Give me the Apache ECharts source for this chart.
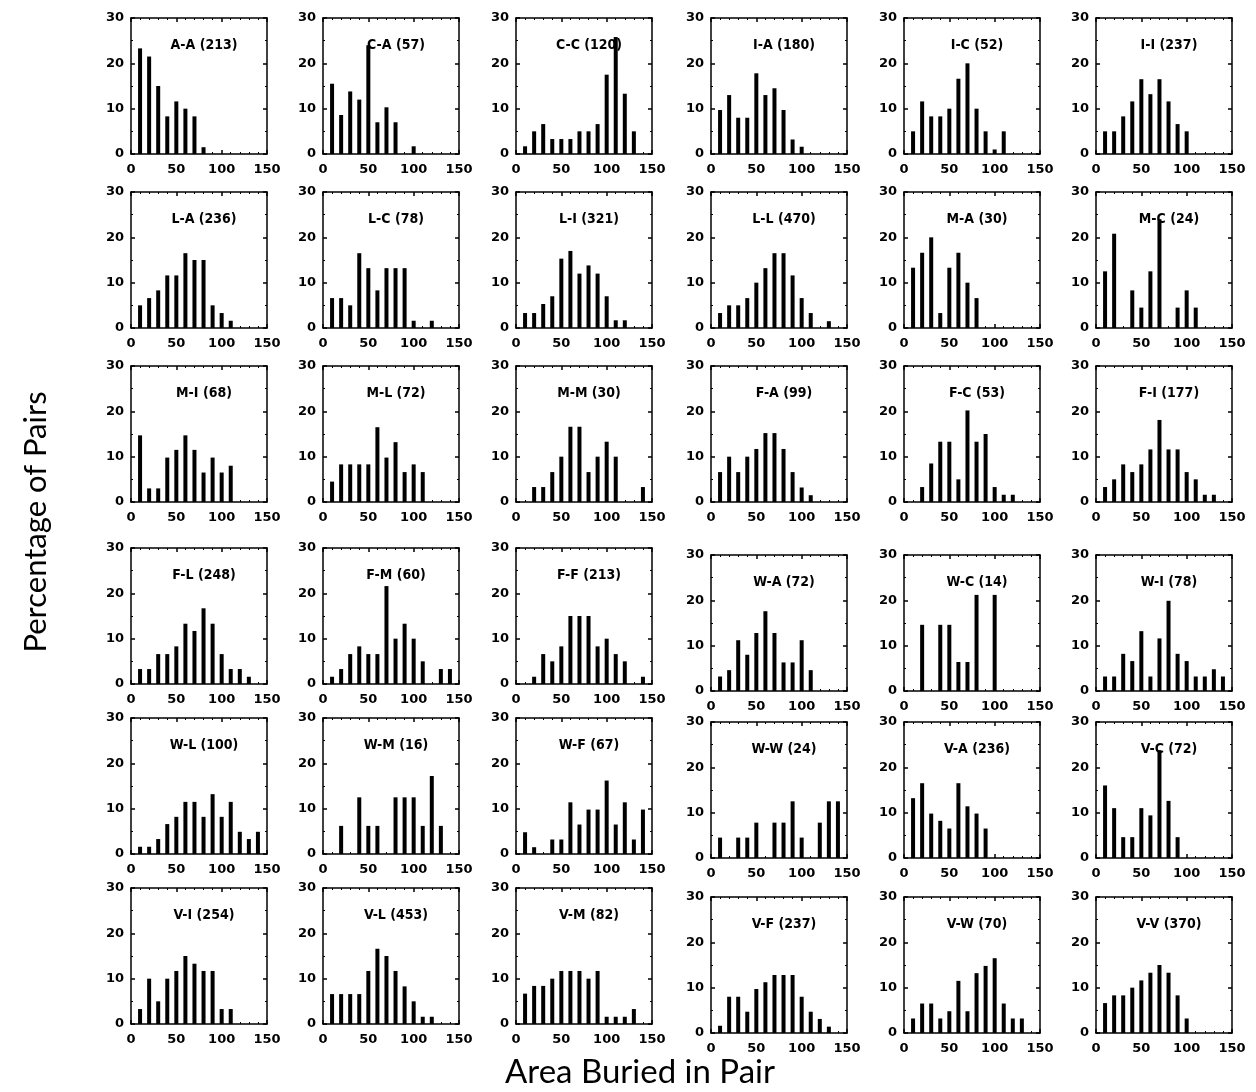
<!DOCTYPE html>
<html>
<head>
<meta charset="utf-8">
<script src="https://cdn.jsdelivr.net/npm/echarts@6/dist/echarts.min.js"></script>
<style>
html, body { margin: 0; padding: 0; background: #fff; }
#main { width: 1256px; height: 1092px; }
</style>
</head>
<body>
<div id="main"></div>
<script>
// bin centres (area buried, 10-unit bins)
var bins = [10, 20, 30, 40, 50, 60, 70, 80, 90, 100, 110, 120, 130, 140];

var pairNames = ['A-A', 'C-A', 'C-C', 'I-A', 'I-C', 'I-I',
                 'L-A', 'L-C', 'L-I', 'L-L', 'M-A', 'M-C',
                 'M-I', 'M-L', 'M-M', 'F-A', 'F-C', 'F-I',
                 'F-L', 'F-M', 'F-F', 'W-A', 'W-C', 'W-I',
                 'W-L', 'W-M', 'W-F', 'W-W', 'V-A', 'V-C',
                 'V-I', 'V-L', 'V-M', 'V-F', 'V-W', 'V-V'];
var pairCounts = [213, 57, 120, 180, 52, 237,
                  236, 78, 321, 470, 30, 24,
                  68, 72, 30, 99, 53, 177,
                  248, 60, 213, 72, 14, 78,
                  100, 16, 67, 24, 236, 72,
                  254, 453, 82, 237, 70, 370];

// percentage of pairs per bin
var AA = [23.3, 21.5, 15, 8.3, 11.6, 10, 8.3, 1.5, 0, 0, 0, 0, 0, 0];
var CA = [15.5, 8.6, 13.8, 12, 24, 7, 10.3, 7, 0, 1.7, 0, 0, 0, 0];
var CC = [1.7, 5, 6.6, 3.3, 3.3, 3.3, 5, 5, 6.6, 17.5, 25.8, 13.3, 5, 0];
var IA = [9.7, 13, 8, 8, 17.8, 13, 14.5, 9.7, 3.2, 1.6, 0, 0, 0, 0];
var IC = [5, 11.6, 8.3, 8.3, 10, 16.6, 20, 10, 5, 1, 5, 0, 0, 0];
var II = [5, 5, 8.3, 11.6, 16.5, 13.2, 16.5, 11.6, 6.6, 5, 0, 0, 0, 0];
var LA = [5, 6.6, 8.3, 11.6, 11.6, 16.5, 15, 15, 5, 3.3, 1.6, 0, 0, 0];
var LC = [6.6, 6.6, 5, 16.5, 13.2, 8.3, 13.2, 13.2, 13.2, 1.6, 0, 1.6, 0, 0];
var LI = [3.3, 3.3, 5.3, 7, 15.3, 17, 12, 13.8, 12, 7, 1.7, 1.7, 0, 0];
var LL = [3.3, 5, 5, 6.6, 10, 13.2, 16.5, 16.5, 11.6, 6.6, 3.3, 0, 1.5, 0];
var MA = [13.3, 16.6, 20, 3.3, 13.3, 16.6, 10, 6.6, 0, 0, 0, 0, 0, 0];
var MC = [12.5, 20.8, 0, 8.3, 4.5, 12.5, 24, 0, 4.5, 8.3, 4.5, 0, 0, 0];
var MI = [14.7, 3, 3, 9.8, 11.5, 14.7, 11.5, 6.5, 9.8, 6.5, 8, 0, 0, 0];
var ML = [4.5, 8.3, 8.3, 8.3, 8.3, 16.5, 9.8, 13.2, 6.6, 8.3, 6.6, 0, 0, 0];
var MM = [0, 3.3, 3.3, 6.6, 10, 16.6, 16.6, 6.6, 10, 13.3, 10, 0, 0, 3.3];
var FA = [6.6, 10, 6.6, 10, 11.7, 15.2, 15.2, 11.7, 6.6, 3.2, 1.5, 0, 0, 0];
var FC = [0, 3.3, 8.5, 13.3, 13.3, 5, 20.2, 13.3, 15, 3.3, 1.6, 1.6, 0, 0];
var FI = [3.3, 5, 8.3, 6.6, 8.3, 11.6, 18.1, 11.6, 11.6, 6.6, 5, 1.6, 1.6, 0];
var FL = [3.3, 3.3, 6.6, 6.6, 8.3, 13.3, 11.7, 16.7, 13.3, 6.6, 3.3, 3.3, 1.6, 0];
var FM = [1.6, 3.3, 6.6, 8.3, 6.6, 6.6, 21.6, 10, 13.3, 10, 5, 0, 3.3, 3.3];
var FF = [0, 1.6, 6.6, 5, 8.3, 15, 15, 15, 8.3, 10, 6.6, 5, 0, 1.6];
var WA = [3.2, 4.6, 11.2, 8, 12.8, 17.6, 12.8, 6.3, 6.3, 11.2, 4.6, 0, 0, 0];
var WC = [0, 14.6, 0, 14.6, 14.6, 6.4, 6.4, 21.2, 0, 21.2, 0, 0, 0, 0];
var WI = [3.2, 3.2, 8.2, 6.6, 13.2, 3.2, 11.6, 19.9, 8.2, 6.6, 3.2, 3.2, 4.8, 3.2];
var WL = [1.6, 1.6, 3.3, 6.6, 8.2, 11.5, 11.5, 8.2, 13.2, 8.2, 11.5, 4.9, 3.3, 4.9];
var WM = [0, 6.2, 0, 12.5, 6.2, 6.2, 0, 12.5, 12.5, 12.5, 6.2, 17.2, 6.2, 0];
var WF = [4.8, 1.5, 0, 3.2, 3.2, 11.4, 6.5, 9.8, 9.8, 16.2, 6.5, 11.4, 3.2, 9.8];
var WW = [4.5, 0, 4.5, 4.5, 7.8, 0, 7.8, 7.8, 12.5, 4.5, 0, 7.8, 12.5, 12.5];
var VA = [13.2, 16.5, 9.8, 8.2, 6.5, 16.5, 11.4, 9.8, 6.5, 0, 0, 0, 0, 0];
var VC = [16, 11, 4.6, 4.6, 11, 9.4, 23.8, 12.6, 4.6, 0, 0, 0, 0, 0];
var VI = [3.3, 10, 5, 10, 11.7, 15, 13.3, 11.7, 11.7, 3.3, 3.3, 0, 0, 0];
var VL = [6.6, 6.6, 6.6, 6.6, 11.7, 16.6, 15, 11.7, 8.3, 5, 1.6, 1.6, 0, 0];
var VM = [6.7, 8.4, 8.4, 10, 11.7, 11.7, 11.7, 10, 11.7, 1.6, 1.6, 1.6, 3.3, 0];
var VF = [1.6, 8, 8, 4.7, 9.7, 11.2, 12.8, 12.8, 12.8, 8, 4.7, 3.1, 1.4, 0];
var VW = [3.2, 6.5, 6.5, 3.2, 4.8, 11.5, 4.8, 13.2, 14.8, 16.5, 6.5, 3.2, 3.2, 0];
var VV = [6.6, 8.3, 8.3, 10, 11.6, 13.3, 15, 13.3, 8.3, 3.2, 0, 0, 0, 0];

var pairPct = [AA, CA, CC, IA, IC, II,
               LA, LC, LI, LL, MA, MC,
               MI, ML, MM, FA, FC, FI,
               FL, FM, FF, WA, WC, WI,
               WL, WM, WF, WW, VA, VC,
               VI, VL, VM, VF, VW, VV];

var xMin = 0, xMax = 150, xStep = 50;
var yMin = 0, yMax = 30, yStep = 10;

// panel layout (pixels)
var colLeft = [131, 323, 516, 711, 904, 1096];
var rowTopL = [18, 192, 366, 548, 718, 888];   // columns 1-3
var rowTopR = [18, 192, 366, 555, 722, 897];   // columns 4-6
var boxW = 136, boxH = 136;

var myChart = echarts.init(document.getElementById('main'));

function makeAxis(gi, pos, isX, showLabel) {
	return {
		type: 'value', gridIndex: gi, position: pos,
		min: isX ? xMin : yMin, max: isX ? xMax : yMax, interval: isX ? xStep : yStep,
		axisLine: { onZero: false, lineStyle: { color: '#000', width: 1.5 } },
		axisTick: { inside: true, length: 4, lineStyle: { color: '#000', width: 1.5 } },
		minorTick: { show: true, splitNumber: isX ? 5 : 2, length: 2, lineStyle: { color: '#000', width: 1 } },
		splitLine: { show: false },
		axisLabel: {
			show: showLabel, margin: isX ? 9 : 7, color: '#000',
			fontSize: 13, fontWeight: 'bold', fontFamily: 'DejaVu Sans'
		}
	};
}

var grids = [], xAxes = [], yAxes = [], series = [], titles = [];

for (var i = 0; i < pairNames.length; i++) {
	var r = Math.floor(i / 6), c = i % 6;
	var boxLeft = colLeft[c];
	var boxTop = c < 3 ? rowTopL[r] : rowTopR[r];
	grids.push({ left: boxLeft, top: boxTop, width: boxW, height: boxH });

	xAxes.push(makeAxis(i, 'bottom', true, true));
	xAxes.push(makeAxis(i, 'top', true, false));
	yAxes.push(makeAxis(i, 'left', false, true));
	yAxes.push(makeAxis(i, 'right', false, false));

	var pts = [];
	for (var k = 0; k < bins.length; k++) {
		pts.push([bins[k], pairPct[i][k]]);
	}
	series.push({
		type: 'bar', name: pairNames[i],
		xAxisIndex: 2 * i, yAxisIndex: 2 * i,
		barWidth: 4, silent: true,
		itemStyle: { color: '#000' },
		data: pts
	});

	titles.push({
		text: pairNames[i] + ' (' + pairCounts[i] + ')',
		left: boxLeft + boxW / 2, top: boxTop + 15, textAlign: 'center',
		textStyle: { color: '#000', fontSize: 14, fontWeight: 'bold', fontFamily: 'DejaVu Sans Condensed' }
	});
}

var option = {
	backgroundColor: '#fff',
	animation: false,
	title: titles,
	grid: grids,
	xAxis: xAxes,
	yAxis: yAxes,
	series: series,
	graphic: [{
		type: 'text', x: 36, y: 522, rotation: Math.PI / 2,
		style: { text: 'Percentage of Pairs', fill: '#000', font: '31px Lato', textAlign: 'center', textVerticalAlign: 'middle' }
	}, {
		type: 'text', x: 640, y: 1072,
		style: { text: 'Area Buried in Pair', fill: '#000', font: '33px Lato', textAlign: 'center', textVerticalAlign: 'middle' }
	}]
};

myChart.setOption(option);
</script>
</body>
</html>
